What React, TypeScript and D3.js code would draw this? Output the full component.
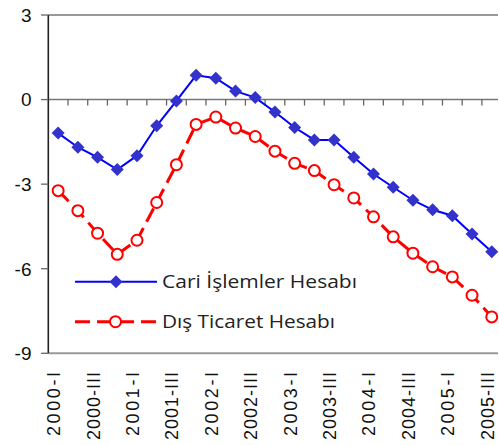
import React from "react";
import * as d3 from "d3";

const categories = [
  "2000-I", "2000-II", "2000-III", "2000-IV",
  "2001-I", "2001-II", "2001-III", "2001-IV",
  "2002-I", "2002-II", "2002-III", "2002-IV",
  "2003-I", "2003-II", "2003-III", "2003-IV",
  "2004-I", "2004-II", "2004-III", "2004-IV",
  "2005-I", "2005-II", "2005-III",
];

const tickLabels = [
  "2000-I", "2000-III", "2001-I", "2001-III", "2002-I", "2002-III",
  "2003-I", "2003-III", "2004-I", "2004-III", "2005-I", "2005-III",
];

const cariIslemler = [
  -1.19, -1.69, -2.05, -2.48, -1.99, -0.93, -0.05, 0.86, 0.76, 0.3, 0.07, -0.44,
  -0.99, -1.43, -1.43, -2.05, -2.64, -3.11, -3.57, -3.91, -4.12, -4.77, -5.4,
];

const disTicaret = [
  -3.23, -3.94, -4.74, -5.49, -4.99, -3.65, -2.31, -0.88, -0.62, -1.01, -1.31, -1.83,
  -2.26, -2.52, -3.02, -3.49, -4.16, -4.87, -5.45, -5.93, -6.29, -6.94, -7.71,
];

const yTicks = [3, 0, -3, -6, -9];

const seriesNames = ["Cari İşlemler Hesabı", "Dış Ticaret Hesabı"];

const W = 499;
const H = 445;
const left = 48.3;
const right = 501.6;
const top = 15;
const bottom = 353.3;

export default function App() {
  const x = d3.scaleBand<string>().domain(categories).range([left, right]).padding(0);
  const y = d3.scaleLinear().domain([-9, 3]).range([bottom, top]);
  const cx = (c: string) => (x(c) as number) + x.bandwidth() / 2;

  const line = d3
    .line<number>()
    .x((_, i) => cx(categories[i]))
    .y((d) => y(d));

  const axisFont = "'Liberation Sans', Arial, sans-serif";
  const legendFont = "'Open Sans', 'DejaVu Sans', sans-serif";
  const diamond = (px: number, py: number, r: number) =>
    `M${px},${py - r}L${px + r},${py}L${px},${py + r}L${px - r},${py}Z`;

  return (
    <svg
      width={W}
      height={H}
      style={{ position: "absolute", left: 0, top: 0, background: "#fff" }}
    >
      {/* top and bottom frame lines */}
      <line x1={left} x2={498} y1={y(3)} y2={y(3)} stroke="#999" strokeWidth={2} />
      <line x1={left} x2={498} y1={y(-9)} y2={y(-9)} stroke="#999" strokeWidth={2} />
      {/* zero line */}
      <line x1={left} x2={498} y1={y(0)} y2={y(0)} stroke="#777" strokeWidth={1.5} />
      {categories.slice(1).map((c) => (
        <line
          key={"t" + c}
          x1={x(c) as number}
          x2={x(c) as number}
          y1={y(0)}
          y2={y(0) + 6}
          stroke="#666"
          strokeWidth={1.3}
        />
      ))}
      {/* y axis */}
      <line x1={left} x2={left} y1={y(3)} y2={y(-9)} stroke="#222" strokeWidth={1.6} />
      {yTicks.map((t) => (
        <g key={"y" + t}>
          <line x1={41} x2={left} y1={y(t)} y2={y(t)} stroke="#666" strokeWidth={1.3} />
          <text
            x={31.5}
            y={y(t) + 6.8}
            textAnchor="end"
            fontFamily={axisFont}
            fontSize={19}
            fill="#111"
          >
            {t}
          </text>
        </g>
      ))}
      {/* x labels */}
      {tickLabels.map((c) => (
        <text
          key={"xl" + c}
          transform={`translate(${cx(c) + 2},372) rotate(-90)`}
          textAnchor="end"
          fontFamily={axisFont}
          fontSize={18}
          textLength={c.endsWith("III") ? 68 : 64}
          lengthAdjust="spacing"
          fill="#111"
        >
          {c}
        </text>
      ))}

      {/* Dış Ticaret series */}
      <path
        d={line(disTicaret) as string}
        fill="none"
        stroke="#ff0000"
        strokeWidth={3}
        strokeDasharray="15,7"
      />
      {disTicaret.map((v, i) => (
        <circle
          key={"c" + i}
          cx={cx(categories[i])}
          cy={y(v)}
          r={5.5}
          fill="#fff"
          stroke="#ff0000"
          strokeWidth={2}
        />
      ))}

      {/* Cari series */}
      <path d={line(cariIslemler) as string} fill="none" stroke="#0000ff" strokeWidth={2} />
      {cariIslemler.map((v, i) => (
        <path key={"d" + i} d={diamond(cx(categories[i]), y(v), 6.5)} fill="#3333cc" />
      ))}

      {/* legend */}
      <line x1={75} x2={157} y1={281.7} y2={281.7} stroke="#0000ff" strokeWidth={2} />
      <path d={diamond(116, 281.7, 6.5)} fill="#3333cc" />
      <text
        x={162}
        y={287.5}
        fontFamily={legendFont}
        fontSize={18}
        textLength={195}
        lengthAdjust="spacingAndGlyphs"
        fill="#222"
      >
        {seriesNames[0]}
      </text>
      <line
        x1={75}
        x2={157}
        y1={321.7}
        y2={321.7}
        stroke="#ff0000"
        strokeWidth={3}
        strokeDasharray="15,7"
      />
      <circle cx={115.5} cy={321.7} r={5.5} fill="#fff" stroke="#ff0000" strokeWidth={2} />
      <text
        x={162}
        y={327.5}
        fontFamily={legendFont}
        fontSize={18}
        textLength={173}
        lengthAdjust="spacingAndGlyphs"
        fill="#222"
      >
        {seriesNames[1]}
      </text>
    </svg>
  );
}
